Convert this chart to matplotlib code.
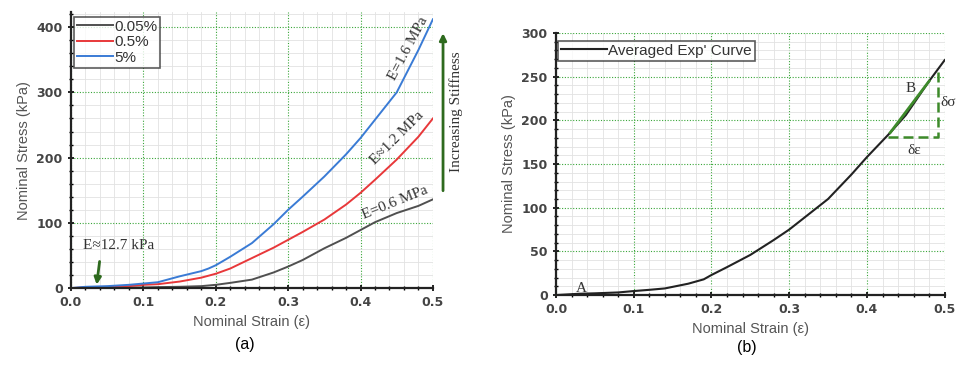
import matplotlib.pyplot as plt
from matplotlib.ticker import MultipleLocator, FormatStrFormatter

# panel (a): stress-strain for three strain rates
strain_a = [0.0, 0.02, 0.05, 0.08, 0.1, 0.12, 0.15, 0.18, 0.19, 0.2, 0.22, 0.25, 0.28,
            0.3, 0.32, 0.35, 0.38, 0.4, 0.42, 0.45, 0.48, 0.5]
stress_005 = [0, 0.5, 1, 1, 1, 1.5, 2, 3, 4, 5, 8, 13, 24, 33, 43, 61, 77, 89, 101, 115, 126, 136]
stress_05 = [0, 1, 2, 3, 5, 6, 10, 16, 19, 22, 30, 46, 62, 74, 86, 105, 128, 146, 166, 197, 232, 260]
stress_5 = [0, 2, 3, 5, 7, 9, 18, 26, 30, 35, 48, 69, 98, 120, 140, 171, 205, 230, 258, 300, 365, 412]
labels_a = ["0.05%", "0.5%", "5%"]

# panel (b): averaged experimental curve
strain_b = [0.0, 0.03, 0.05, 0.08, 0.1, 0.12, 0.14, 0.17, 0.19, 0.2, 0.22, 0.25, 0.28,
            0.3, 0.33, 0.35, 0.38, 0.4, 0.43, 0.45, 0.48, 0.5]
stress_b = [0, 1.5, 2, 3, 4.6, 6, 7.6, 13, 18, 23, 32, 46, 63, 75, 96, 110, 138, 158, 186, 206, 245, 269]

grey = "#555555"
major_grid = dict(color="#3aa63a", linestyle=(0, (1, 1.5)), linewidth=0.8)
minor_grid = dict(color="#e2e2e2", linestyle="-", linewidth=0.6)

fig = plt.figure(figsize=(9.62, 3.67), dpi=100)
ax1 = fig.add_axes([0.0738, 0.215, 0.3762, 0.752])
ax2 = fig.add_axes([0.578, 0.196, 0.404, 0.714])


def style(ax, ymajor, yminor):
    ax.xaxis.set_major_locator(MultipleLocator(0.1))
    ax.xaxis.set_minor_locator(MultipleLocator(0.02))
    ax.xaxis.set_major_formatter(FormatStrFormatter("%.1f"))
    ax.yaxis.set_major_locator(MultipleLocator(ymajor))
    ax.yaxis.set_minor_locator(MultipleLocator(yminor))
    ax.grid(which="minor", **minor_grid)
    ax.grid(which="major", **major_grid)
    ax.set_axisbelow(True)
    for s in ["top", "right"]:
        ax.spines[s].set_visible(False)
    for s in ["left", "bottom"]:
        ax.spines[s].set_linewidth(1.6)
        ax.spines[s].set_color("#222222")
    ax.tick_params(which="major", direction="inout", length=5, width=1.2, labelsize=9,
                   labelcolor="#444444")
    ax.tick_params(which="minor", direction="inout", length=3, width=1)
    for t in ax.get_xticklabels() + ax.get_yticklabels():
        t.set_fontweight("bold")
    ax.set_xlabel("Nominal Strain (\u03b5)", fontsize=10.5, color=grey, family="Liberation Sans")
    ax.set_ylabel("Nominal Stress (kPa)", fontsize=10.5, color=grey, family="Liberation Sans")


ax1.plot(strain_a, stress_005, color="#505050", lw=1.4, label=labels_a[0])
ax1.plot(strain_a, stress_05, color="#e8383a", lw=1.4, label=labels_a[1])
ax1.plot(strain_a, stress_5, color="#3a7bd5", lw=1.4, label=labels_a[2])
ax1.set_xlim(0, 0.5)
ax1.set_ylim(0, 423)
style(ax1, 100, 20)
leg = ax1.legend(loc="upper left", bbox_to_anchor=(-0.005, 1.0), frameon=True,
                 fancybox=False, handlelength=2.35, handletextpad=0.1, borderpad=0.2,
                 borderaxespad=0.3, labelspacing=0.1,
                 prop={"family": "Liberation Sans", "size": 11})
leg.get_frame().set_edgecolor("#333333")
leg.get_frame().set_linewidth(1.2)
for t in leg.get_texts():
    t.set_color("#333333")

ann = dict(family="Liberation Serif", fontsize=11, color="#333333")
ax1.text(0.016, 60, "E\u224812.7 kPa", **ann)
ax1.annotate("", xy=(0.035, 1), xytext=(0.04, 45),
             arrowprops=dict(arrowstyle="-|>", color="#2e6a1e", lw=2, mutation_scale=10))
ax1.text(0.4, 106, "E=0.6 MPa", rotation=22, **ann)
ax1.text(0.41, 190, "E\u22481.2 MPa", rotation=45, **ann)
ax1.text(0.436, 320, "E=1.6 MPa", rotation=62, **ann)
ax1.annotate("", xy=(0.514, 395), xytext=(0.514, 145), annotation_clip=False,
             arrowprops=dict(arrowstyle="-|>", color="#2e6a1e", lw=2, mutation_scale=10))
ax1.text(0.532, 270, "Increasing Stiffness", rotation=90, ha="center", va="center",
         clip_on=False, **ann)

ax2.plot(strain_b, stress_b, color="#222222", lw=1.5, label="Averaged Exp' Curve")
ax2.set_xlim(0, 0.5)
ax2.set_ylim(0, 300)
style(ax2, 50, 10)
leg2 = ax2.legend(loc="upper left", bbox_to_anchor=(-0.015, 1.0), fancybox=False,
                  handlelength=3, handletextpad=0.1, borderpad=0.2,
                  prop={"family": "Liberation Sans", "size": 11})
leg2.get_frame().set_edgecolor("#333333")
leg2.get_frame().set_linewidth(1.2)
for t in leg2.get_texts():
    t.set_color("#333333")

# slope triangle
tri_x = [0.427, 0.491, 0.491]
tri_y = [181, 181, 259]
ax2.plot(tri_x, tri_y, color="#3d8a2a", lw=1.8, linestyle=(0, (4, 2)))
ax2.plot([0.43, 0.48], [186, 245], color="#3d8a2a", lw=2)
ax2.text(0.45, 232, "B", **ann)
ax2.text(0.494, 216, "\u03b4\u03c3", clip_on=False, **ann)
ax2.text(0.452, 161, "\u03b4\u03b5", **ann)
ax2.text(0.025, 4, "A", **ann)

fig.text(0.255, 0.05, "(a)", fontsize=11.5, ha="center", family="Liberation Sans")
fig.text(0.776, 0.04, "(b)", fontsize=11.5, ha="center", family="Liberation Sans")

fig.savefig("out.png", dpi=100)
